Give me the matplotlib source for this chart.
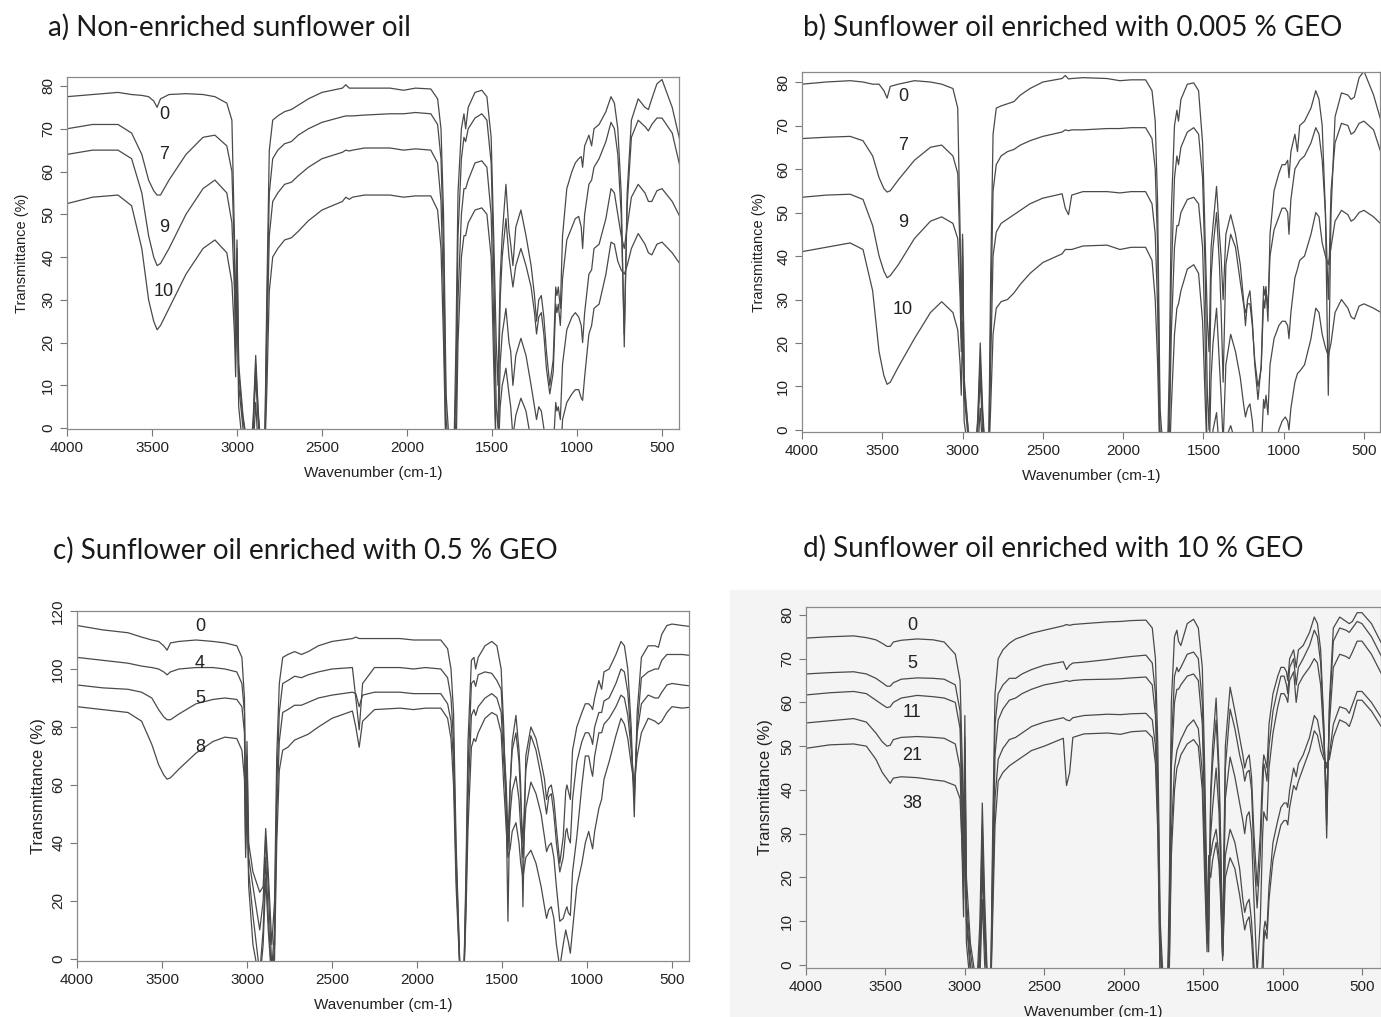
import matplotlib
matplotlib.use('Agg')
import matplotlib.pyplot as plt
from matplotlib.patches import Rectangle

plt.rcParams['font.family'] = ['Liberation Sans', 'DejaVu Sans']

# --- wavenumber nodes (cm-1), shared by every spectrum ---
wn = [4000, 3850, 3700, 3620, 3560, 3520, 3490, 3470, 3450, 3400, 3300, 3200, 3130,
      3060, 3030, 3015, 3008, 3000, 2990, 2965, 2925, 2905, 2890, 2875, 2854, 2838, 2825, 2810, 2790, 2760, 2720,
      2680, 2640, 2580, 2500, 2380, 2360, 2340, 2320, 2250, 2100, 2020, 1950, 1860, 1820, 1800, 1785,
      1770, 1745, 1725, 1712, 1700, 1680, 1665, 1655, 1640, 1600, 1560, 1530, 1505, 1490,
      1475, 1465, 1452, 1440, 1418, 1400, 1390, 1377, 1360, 1330, 1300, 1270, 1250, 1238, 1225, 1210,
      1195, 1180, 1160, 1140, 1125, 1118, 1110, 1098, 1085, 1060, 1030, 1010, 990, 975, 967, 955,
      930, 914, 900, 870, 830, 800, 780, 760, 740, 722, 705, 680, 640, 600, 580, 560, 530, 500, 440, 370]

# --- a) non-enriched oil, days 0 / 7 / 9 / 10 ---
a_labels = ['0', '7', '9', '10']
a_0 = [77.5, 78, 78.5, 78, 77.8, 77.5, 76.5, 75, 77, 78, 78.2, 78, 77.5,
       76, 72, 45, 25, 44, 15, 3, -8, 2, 17, 4, -8, -8, 30, 65, 72, 73, 74,
       74.5, 75.5, 77, 78.5, 79.5, 80.3, 79.5, 79.5, 79.5, 79.5, 79, 79.5, 79.3, 77, 70, 50,
       8, -8, -8, 20, 55, 70, 73.5, 70, 75, 78.5, 79, 77.5, 68, 45,
       20, 10, 35, 45, 57, 46, 43, 38, 47, 51, 45, 38, 31, 25, 30, 31,
       26, 18, 10, 16, 33, 31, 33, 28, 45, 56, 60, 62, 63, 63.5, 61, 66,
       68.5, 66, 70, 71, 74, 77.5, 76, 70, 55, 19, 55, 72, 77, 75, 74.5, 77, 80.5, 81.5, 75, 63]
a_7 = [70, 71, 71, 69, 64, 58, 55.5, 54.5, 54.5, 58, 64, 68, 68.5,
       66, 60, 40, 22, 42, 13, 2, -8, 1, 15, 3, -8, -8, 25, 55, 63, 65, 66.5,
       67, 68.5, 70, 71.5, 72.8, 73, 73, 73, 73.2, 73.5, 73.5, 73.8, 73.5, 71, 63, 42,
       2, -8, -8, 10, 45, 63, 68, 67, 70, 72.5, 73.5, 72, 62, 38,
       5, 0, 30, 40, 49, 40, 37, 33, 38, 42, 38, 33, 27, 22, 26, 27,
       22, 14, 8, 13, 29, 27, 29, 24, 35, 44, 47, 49, 49.5, 47, 42, 50,
       57, 58, 61, 63, 67, 71.5, 70, 64, 50, 22, 52, 68, 72, 70.5, 69.5, 71, 72.5, 72.5, 69, 57]
a_9 = [64, 65, 65, 63, 55, 45, 40, 38, 38.5, 42, 50, 56, 58,
       55, 48, 32, 18, 38, 10, 0, -8, 0, 12, 1, -8, -8, 18, 45, 53, 55, 57,
       57.5, 59, 61, 63, 64.5, 65, 64.8, 65, 65.5, 65.5, 65, 65.3, 65, 62, 53, 30,
       -8, -8, -8, 2, 30, 50, 56, 56, 58, 62, 62.5, 61, 50, 25,
       -8, -8, 15, 22, 28, 20, 18, 10, 17, 21, 17, 10, 5, 2, 5, 4,
       0, -5, -8, -5, 6, 4, 5, 2, 15, 23, 26, 27, 26, 24, 20, 27,
       36, 37, 42, 43, 49, 56, 55, 50, 45, 42, 47, 54, 57, 55, 53, 53, 55.5, 56, 53, 47.5]
a_10 = [52.5, 54, 54.5, 52, 42, 30, 25, 23, 24, 28, 36, 42, 44,
        41, 34, 22, 12, 30, 5, -5, -8, -5, 6, -5, -8, -8, 8, 32, 40, 42, 44,
        44.5, 46, 48.5, 51, 53, 54, 53.5, 54, 54.5, 54.5, 54, 54.3, 54.3, 51, 42, 20,
        -8, -8, -8, -8, 20, 40, 45, 45, 48, 51, 51.5, 50, 40, 15,
        -8, -8, 5, 10, 14, 8, 5, -2, 3, 7, 4, -3, -6, -8, -8, -8,
        -8, -8, -8, -8, -8, -8, -8, -8, 2, 6, 8, 9, 9, 7, 6.5, 12,
        22, 24, 28, 29, 36, 43.5, 43, 39, 37, 36, 38, 42, 45.5, 43, 41, 40.5, 43, 43.5, 41, 37]

# --- b) 0.005 % GEO, days 0 / 7 / 9 / 10 ---
b_labels = ['0', '7', '9', '10']
b_0 = [79.5, 80, 80.3, 80, 79.5, 79.5, 78, 76.3, 79, 79.5, 80.3, 80, 79.5,
       78.5, 74, 45, 21, 44, 10, 0, -8, 3, 20, 5, -8, -8, 35, 68, 74, 74.5, 75,
       75.5, 77, 78.5, 80, 80.8, 81.5, 80.7, 80.8, 81, 80.8, 80.3, 80.5, 80.5, 78, 71, 52,
       5, -8, -8, 15, 50, 70, 73.5, 71, 76, 79.5, 79.8, 78, 66, 45,
       25, 18, 42, 47, 56, 45, 40, 30, 45, 49.5, 45, 38, 30, 24, 30, 32,
       25, 15, 7, 15, 33, 31, 33, 25, 45, 55, 59, 61, 61, 62, 58, 64,
       68, 64, 70, 71, 74, 78, 76, 70, 50, 8, 50, 72, 77.5, 77, 76, 76.5, 81, 82.5, 77, 68]
b_7 = [67, 67.3, 67.5, 66.5, 63, 58, 55.5, 54.7, 55, 57.5, 62, 65, 65.5,
       63, 59, 40, 22, 45, 12, 0, -8, 2, 16, 3, -8, -8, 25, 55, 61, 63, 64,
       64.5, 65.5, 66.5, 67.5, 68.5, 69, 68.8, 69, 69, 69.3, 69.3, 69.5, 69.5, 67, 60, 42,
       0, -8, -8, 5, 35, 58, 63, 61, 65, 68.5, 69.5, 68, 58, 38,
       8, 0, 35, 42, 50, 38, 28, 11, 38, 45, 42, 34, 29, 27, 29, 29,
       24, 16, 10, 14, 30, 28, 32, 28, 40, 46, 49, 51, 51, 50, 45, 53,
       60, 61, 62, 63, 66, 69.5, 68, 62, 50, 30, 55, 66, 70.5, 70, 68, 68.5, 70.5, 71, 69, 61]
b_9 = [53.5, 54, 54.2, 53, 47, 40, 36.5, 35, 35.5, 38, 44, 48, 49,
       47.5, 44, 30, 18, 40, 8, -2, -8, 0, 12, 0, -8, -8, 15, 40, 45.5, 47.5, 48.5,
       49.5, 50.5, 52, 53.3, 54.3, 51, 49.5, 54, 54.8, 54.8, 54.5, 54.8, 54.8, 52, 45, 28,
       -8, -8, -8, -2, 22, 42, 47, 47, 50, 53, 53.5, 52, 42, 22,
       -8, -8, 12, 20, 28, 15, 8, -3, 15, 22, 18, 12, 6, 3, 5, 6,
       2, -5, -8, -5, 7, 5, 8, 3.5, 15, 21, 24, 25, 25, 24, 21, 27,
       35, 37, 39, 40, 45, 50, 49, 43, 40, 38, 42, 48, 50.5, 49.5, 48, 48.5, 50, 50.5, 49, 46.5]
b_10 = [41, 42, 43, 41.5, 32, 18, 12.5, 10.5, 11, 14.5, 21, 27, 29.5,
        27, 23, 15, 8, 25, 2, -5, -8, -5, 5, -5, -8, -8, 5, 22, 28, 29.5, 30,
        31.5, 33.5, 36, 38.5, 40.5, 41.5, 41.5, 41.5, 42.3, 42.5, 41.5, 42, 42, 39, 30, 15,
        -8, -8, -8, -8, 5, 22, 28, 29, 32, 37, 38, 36, 25, 8,
        -8, -8, -5, 0, 4, -5, -8, -8, -2, 1, -3, -8, -8, -8, -8, -8,
        -8, -8, -8, -8, -8, -8, -8, -8, -8, -5, 0, 2, 3, 2, 0, 5,
        11, 13, 13.5, 15, 21, 28, 27, 22, 19, 17, 20, 27, 30, 28, 26, 25.5, 28.5, 29, 28, 26.5]

# --- c) 0.5 % GEO, days 0 / 4 / 5 / 8 ---
c_labels = ['0', '4', '5', '8']
c_0 = [115, 113.5, 112.5, 111, 110, 109.5, 108, 106.5, 109, 109.5, 110, 109.5, 109,
       108, 104, 90, 52, 75, 40, 30, 23, 25, 45, 30, 5, 20, 70, 95, 104, 105, 106,
       105, 106, 108, 109.5, 110.5, 111, 110.5, 110.5, 110.5, 110.5, 110, 110, 110, 107, 100, 85,
       40, -8, -8, 30, 75, 103, 104, 100, 104, 108, 109.5, 108, 100, 80,
       50, 13, 60, 75, 84, 72, 60, 18, 70, 80, 76, 68, 62, 55, 59, 60,
       55, 45, 33, 42, 58, 60, 58, 55, 72, 80, 85, 88, 88, 87, 86, 90,
       96, 93, 99, 100, 105, 109.5, 108, 100, 80, 49, 85, 104, 108, 108, 107.5, 112, 115, 115.5, 115, 114.5]
c_4 = [104, 103, 102, 101, 100.5, 100, 99, 98, 99, 100, 100.5, 100.5, 100,
       99, 95, 85, 42, 70, 35, 25, 10, 20, 42, 25, -3, 10, 60, 85, 95, 96, 97.5,
       97, 98, 99, 100, 100.5, 90, 79, 95, 100.5, 100.5, 100, 100.5, 100, 97, 90, 75,
       35, -8, -8, 25, 65, 95, 96, 94, 98, 99, 98.5, 96, 93, 75,
       60, 42, 60, 72, 78, 68, 55, 40, 65, 77, 72, 63, 55, 50, 56, 57,
       50, 40, 30, 35, 44, 45, 42, 40, 55, 68, 75, 78, 78, 76, 74, 80,
       85, 85, 89, 90, 95, 100, 99, 92, 75, 55, 80, 97, 99, 100, 100, 103, 105, 105, 105, 104.5]
c_5 = [94.5, 93.5, 93, 92, 90, 86, 83.5, 82.5, 82.5, 84.5, 88, 89.5, 90,
       89.5, 87, 78, 38, 60, 30, 15, -5, 10, 35, 15, -8, 5, 50, 75, 85, 86, 87.5,
       87.5, 88.5, 90, 91, 92, 91.5, 87, 91, 92, 92, 91.5, 91.5, 91.5, 88, 82, 68,
       30, -8, -8, 20, 55, 84, 86, 84, 87, 90, 91.5, 90, 85, 68,
       55, 38, 50, 58, 63, 55, 45, 35, 52, 61, 57, 50, 42, 37, 39, 40,
       35, 25, 13, 14, 17, 18, 16, 15, 30, 42, 60, 70, 70, 65, 63, 70,
       78, 78, 81, 83, 87, 91, 90, 84, 72, 58, 78, 88, 91, 90, 90, 92, 94.5, 95, 94.5, 94]
c_8 = [87, 86, 85, 82, 74, 67, 63.5, 62, 62.5, 65.5, 71, 75, 76.5,
       76, 72, 62, 35, 55, 25, 5, -8, 5, 28, 10, -8, 0, 40, 65, 72, 73, 75.5,
       76.5, 77.5, 80, 83, 85.5, 80, 73, 82, 86, 86.5, 86, 86.5, 86.5, 83, 76, 60,
       25, -8, -8, 15, 45, 73, 76, 75, 78, 83, 85, 84, 78, 60,
       45, 35, 38, 44, 47, 40, 33, 28, 35, 37.5, 33, 25, 18, 14, 17, 18,
       14, 5, -3, 5, 10, 8, 6, 2, 10, 25, 33, 40, 44, 40, 38, 44,
       52, 55, 62, 68, 77, 83, 81, 76, 67, 60, 70, 78, 83, 82, 81, 82, 85, 87, 86.5, 87]

# --- d) 10 % GEO, days 0 / 5 / 11 / 21 / 38 ---
d_labels = ['0', '5', '11', '21', '38']
d_0 = [74.7, 75, 75.2, 74.8, 74.3, 73.5, 72.8, 72.8, 73.8, 74.2, 74.5, 74.3, 73.8,
       71, 65, 45, 25, 57, 20, 5, -5, 10, 37, 15, -8, -8, 30, 62, 70, 72, 73.5,
       74.5, 75, 75.8, 76.5, 77.5, 77.8, 77.6, 77.8, 78, 78.4, 78.5, 78.7, 78.8, 77, 70, 50,
       10, -8, -8, 20, 60, 75, 76.5, 74, 73, 78, 79, 77, 68, 45,
       15, 3, 40, 50, 61, 45, 30, 3, 50, 63.5, 58, 52, 48, 45, 47, 48,
       43, 30, 18, 30, 45, 48, 47, 45, 55, 62, 66, 68, 68, 67, 65, 70,
       72, 68, 72, 73, 76, 79.5, 78, 72, 55, 29, 60, 77, 79.5, 78.5, 78, 78.5, 80.5, 80.5, 78, 73]
d_5 = [66.5, 66.8, 67, 66.5, 65.5, 64.5, 63.7, 63.7, 64.5, 65.3, 65.6, 65.5, 65.3,
       64, 58, 35, 20, 52, 15, 3, -8, 5, 32, 10, -8, -8, 25, 55, 62, 64, 65.5,
       65.5, 66.5, 67.5, 68.5, 69.3, 67.5, 68.5, 69, 69.2, 69.8, 70.2, 70.5, 70.8, 69, 62, 42,
       5, -8, -8, 12, 50, 66, 68, 67, 68, 71, 71.5, 70, 60, 38,
       12, 8, 38, 46, 56, 42, 27, 2, 45, 58.5, 54, 48, 45, 42, 44, 44.5,
       40, 25, 13, 25, 40, 46, 45, 42, 50, 58, 63, 66, 66, 64, 62, 68,
       70, 64, 68, 70, 73, 76.5, 75, 69, 54, 32, 58, 74, 77, 76.5, 76, 77, 78.5, 78, 75, 70]
d_11 = [61.7, 62.2, 62.5, 62, 60.5, 59.5, 58.8, 59, 60, 61, 61.6, 61.3, 61,
        60, 54, 30, 15, 48, 12, 0, -8, 3, 28, 8, -8, -8, 20, 48, 56, 58.5, 60.5,
        61, 62, 63, 64, 64.8, 65, 64.8, 65, 65.2, 65.3, 65.4, 65.6, 65.8, 64, 57, 38,
        3, -8, -8, 8, 45, 60, 63, 63, 64, 66, 66.5, 65, 55, 33,
        10, 20, 30, 36, 45, 35, 22, 2, 38, 47.5, 43, 37, 33, 30, 34, 35,
        30, 15, -2, 10, 30, 35, 34, 33, 45, 53, 59, 62, 62, 61, 60, 65,
        67, 60, 64, 66, 68, 70, 69, 64, 52, 38, 55, 68, 71, 70.5, 70, 71.5, 74, 74, 71, 66]
d_21 = [55.3, 55.8, 56.3, 55.5, 53, 51, 50, 50.2, 51.5, 52, 52.2, 52, 51.8,
        50.5, 45, 22, 11, 40, 10, -2, -8, 0, 22, 5, -8, -8, 15, 38, 47, 49.5, 51.5,
        52, 53, 54.5, 55.5, 56.5, 56, 55.8, 56.5, 57, 57.3, 57.2, 57.4, 57.5, 56, 50, 33,
        -3, -8, -8, 2, 30, 45, 49, 50, 51.5, 54.5, 56, 54, 44, 25,
        5, 25, 25, 28, 31, 25, 18, 2, 25, 31, 28, 22, 15, 12, 14, 15,
        10, 0, -8, -8, 2, 8, 10, 8, 18, 28, 33, 36, 37, 37, 36, 40,
        45, 43, 46, 48, 52, 57, 56, 52, 48, 45, 48, 55, 59, 58.5, 57.5, 59.5, 62.5, 62.5, 60, 56]
d_38 = [49.5, 50.3, 50.5, 50, 47, 44, 42.5, 41.5, 42.7, 43, 42.8, 42.3, 42,
        41, 38, 25, 18, 30, 5, -5, -8, -3, 15, 0, -8, -8, 10, 32, 42, 44, 45.5,
        46.5, 47.5, 49, 50, 51.8, 41, 44, 52, 52.8, 53, 52.7, 53.3, 53.5, 52, 46, 30,
        -5, -8, -8, 0, 25, 40, 45, 46, 48, 50.5, 51.5, 50, 40, 20,
        3, 22, 20, 24, 28, 23, 15, 1, 20, 24.5, 22, 16, 11, 8, 10, 11,
        6, -3, -8, -8, -5, 5, 8, 6, 15, 24, 29, 32, 33, 33, 32, 36,
        41, 40, 42, 45, 49, 53.5, 52.5, 49, 47, 46, 47, 52, 56, 55.3, 54.5, 56.5, 60.5, 60.5, 58, 54]

W, H = 1381, 1017
fig = plt.figure(figsize=(W / 100, H / 100), dpi=100)

# panel d sits on a faint grey scan background (behind the axes)
fig.patches.append(Rectangle((730 / W, 0), 1 - 730 / W, 1 - 590 / H,
                             transform=fig.transFigure, color='#f4f4f4', zorder=-10))

panels = [
    dict(box=(67, 679, 77, 429), xlim=(4000, 400), ylim=(-0.2, 82.1), yticks=range(0, 81, 10),
         curves=[a_0, a_7, a_9, a_10], labels=a_labels, lab_x=3430, lab_y=[73.4, 63.9, 46.8, 32],
         title='a) Non-enriched sunflower oil', tpos=(48, 27), ylsize=10.5, ylpad=9, bg='white'),
    dict(box=(802, 1380, 72, 432), xlim=(4000, 400), ylim=(-0.46, 82.3), yticks=range(0, 81, 10),
         curves=[b_0, b_7, b_9, b_10], labels=b_labels, lab_x=3370, lab_y=[76.6, 65.3, 47.8, 27.8],
         title='b) Sunflower oil enriched with 0.005 % GEO', tpos=(803, 27), ylsize=10.5, ylpad=7, bg='white'),
    dict(box=(77, 689, 611, 961), xlim=(4000, 400), ylim=(-0.7, 120), yticks=range(0, 121, 20),
         curves=[c_0, c_4, c_5, c_8], labels=c_labels, lab_x=3276, lab_y=[114.5, 102, 89.7, 72.8],
         title='c) Sunflower oil enriched with 0.5 % GEO', tpos=(53, 550), ylsize=12, ylpad=4, bg='white'),
    dict(box=(806, 1381, 607, 968), xlim=(4000, 380), ylim=(-0.7, 81.8), yticks=range(0, 81, 10),
         curves=[d_0, d_5, d_11, d_21, d_38], labels=d_labels, lab_x=3330,
         lab_y=[77.5, 68.8, 57.6, 47.8, 37],
         title='d) Sunflower oil enriched with 10 % GEO', tpos=(803, 548), ylsize=12, ylpad=5, bg='#f4f4f4'),
]

for p in panels:
    l, r, t, b = p['box']
    ax = fig.add_axes([l / W, 1 - b / H, (r - l) / W, (b - t) / H])
    ax.set_facecolor(p['bg'])
    for y in p['curves']:
        ax.plot(wn, y, color='#4a4a4a', lw=0.9)
    for lab, ly in zip(p['labels'], p['lab_y']):
        ax.text(p['lab_x'], ly, lab, ha='center', va='center', fontsize=13, color='#222222')
    ax.set_xlim(*p['xlim'])
    ax.set_ylim(*p['ylim'])
    ax.set_xticks(range(4000, 499, -500))
    ax.set_yticks(list(p['yticks']))
    ax.tick_params(axis='both', direction='out', length=5, width=0.8, color='#777777',
                   labelsize=11, labelcolor='#222222')
    ax.tick_params(axis='y', labelrotation=90)
    for lbl in ax.get_yticklabels():
        lbl.set_va('center')
    for s in ax.spines.values():
        s.set_color('#8a8a8a')
        s.set_linewidth(0.9)
    ax.set_xlabel('Wavenumber (cm-1)', fontsize=11, labelpad=8, color='#222222')
    ax.set_ylabel('Transmittance (%)', fontsize=p['ylsize'], labelpad=p['ylpad'], color='#222222')
    fig.text(p['tpos'][0] / W, 1 - p['tpos'][1] / H, p['title'], ha='left', va='center',
             fontsize=20, family=['Lato', 'DejaVu Sans'], color='#1a1a1a')

fig.savefig('out.png', dpi=100)
